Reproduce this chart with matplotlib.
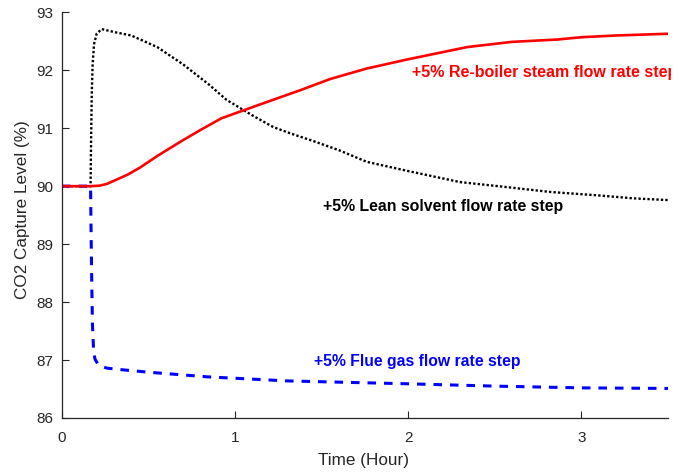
import matplotlib
matplotlib.use("Agg")
import matplotlib.pyplot as plt
from matplotlib.patches import Rectangle

plt.rcParams['font.family'] = ['Liberation Sans', 'DejaVu Sans']

# Lean solvent step (black dotted)
lean_t = [0.0, 0.165, 0.168, 0.172, 0.177, 0.185, 0.20, 0.23, 0.30, 0.40, 0.55, 0.70, 0.85, 0.95,
          1.10, 1.22, 1.32, 1.45, 1.60, 1.76, 2.00, 2.30, 2.55, 2.82, 3.10, 3.30, 3.50]
lean_y = [90.0, 90.0, 90.8, 91.6, 92.1, 92.45, 92.63, 92.71, 92.66, 92.60, 92.40, 92.10, 91.75, 91.49,
          91.22, 91.02, 90.91, 90.78, 90.62, 90.42, 90.26, 90.07, 89.99, 89.90, 89.84, 89.79, 89.76]

# Re-boiler steam step (red solid)
reb_t = [0.0, 0.17, 0.22, 0.26, 0.32, 0.38, 0.45, 0.55, 0.68, 0.80, 0.92, 1.05, 1.20, 1.38,
         1.55, 1.76, 2.00, 2.34, 2.60, 2.86, 3.00, 3.20, 3.50]
reb_y = [90.0, 90.0, 90.01, 90.04, 90.12, 90.2, 90.32, 90.52, 90.76, 90.97, 91.17, 91.31, 91.47, 91.66,
         91.85, 92.03, 92.19, 92.40, 92.49, 92.53, 92.57, 92.60, 92.63]

# Flue gas step (blue dashed)
flue_t = [0.0, 0.165, 0.168, 0.172, 0.176, 0.182, 0.19, 0.205, 0.22, 0.26, 0.32, 0.50, 0.84,
          1.30, 2.00, 2.50, 3.00, 3.50]
flue_y = [90.0, 90.0, 89.2, 88.3, 87.6, 87.2, 87.02, 86.94, 86.90, 86.86, 86.84, 86.79, 86.71,
          86.64, 86.59, 86.55, 86.52, 86.51]

x_ticks = [0, 1, 2, 3]
y_ticks = [86, 87, 88, 89, 90, 91, 92, 93]

fig = plt.figure(figsize=(6.92, 4.73), dpi=100)
ax = fig.add_axes([62/692, 1-418/473, 606/692, (418-12.3)/473])

ax.plot(flue_t, flue_y, color='#0000ff', lw=2.2, ls=(0, (2.8, 2.6)))
ax.plot(lean_t, lean_y, color='black', lw=1.7, ls=(0, (1.0, 0.9)))
ax.plot(reb_t, reb_y, color='#ff0000', lw=1.9)

ax.set_xlim(0, 3.5)
ax.set_ylim(86, 93)
ax.set_xticks(x_ticks)
ax.set_yticks(y_ticks)
ax.tick_params(direction='in', length=5, width=0.8, colors='#262626', labelsize=11)
ax.tick_params(axis='x', pad=9)
ax.tick_params(axis='y', pad=6)
for s in ['top', 'right']:
    ax.spines[s].set_visible(False)
for s in ['left', 'bottom']:
    ax.spines[s].set_color('#262626')
    ax.spines[s].set_linewidth(0.9)

ax.set_xlabel('Time (Hour)', fontsize=12.3, color='#262626')
ax.set_ylabel('CO2 Capture Level (%)', fontsize=12.3, color='#262626')
ax.xaxis.set_label_coords((363.5-62)/606, (418-453)/405.7)
ax.yaxis.set_label_coords((30-62)/606, (418-210)/405.7)

clip = Rectangle((0, 0), 671/692, 1, transform=fig.transFigure)
t1 = ax.text((411.7-62)/172.9, 93-(72.3-12.3)/57.9, '+5% Re-boiler steam flow rate step',
             color='#ff0000', fontsize=11.5, fontweight='bold', ha='left', va='center', clip_on=True)
t1.set_clip_path(clip)
ax.text((322.7-62)/172.9, 93-(206.7-12.3)/57.9, '+5% Lean solvent flow rate step', color='black',
        fontsize=11.4, fontweight='bold', ha='left', va='center')
ax.text((313.3-62)/172.9, 93-(361-12.3)/57.9, '+5% Flue gas flow rate step', color='#0000ff',
        fontsize=11.3, fontweight='bold', ha='left', va='center')

fig.savefig('out.png', dpi=100)
